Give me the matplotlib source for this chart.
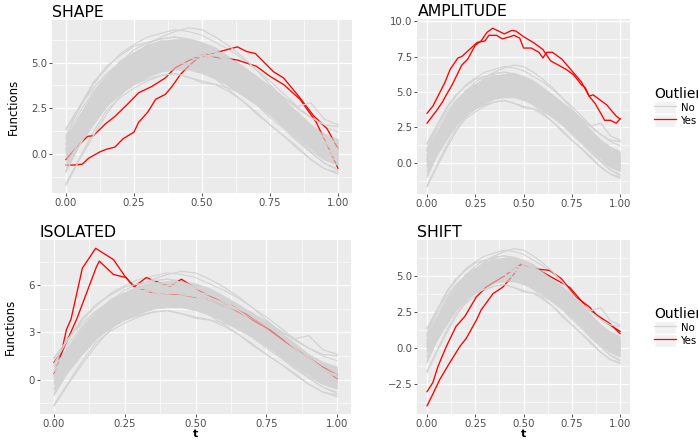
import matplotlib
matplotlib.use("Agg")
import matplotlib.pyplot as plt
from matplotlib.lines import Line2D
from matplotlib.patches import Patch
import numpy as np

plt.rcParams['font.family'] = ['DejaVu Sans']

# time grid for the grey (non outlying) curves
t = np.linspace(0, 1, 21)

grey_curves = [
    [1.3, 2.5, 3.8, 4.7, 5.5, 6.0, 6.4, 6.6, 6.8, 6.7, 6.5, 6.1, 5.7, 5.2, 4.6, 4.0, 3.3, 2.6, 2.0, 1.5, 1.2],
    [-1.6, -0.2, 1.2, 2.4, 3.1, 3.6, 4.0, 4.3, 4.4, 4.2, 4.0, 3.8, 3.4, 2.9, 2.3, 1.6, 1.0, 0.3, -0.3, -0.8, -1.1],
    [0.9, 2.3, 3.4, 4.3, 5.0, 5.7, 6.1, 6.3, 6.4, 6.3, 6.1, 5.8, 5.3, 4.8, 4.2, 3.6, 3.0, 2.3, 1.6, 1.1, 0.8],
    [-0.9, 0.6, 1.7, 2.8, 3.5, 4.1, 4.5, 4.7, 4.8, 4.7, 4.5, 4.2, 3.7, 3.2, 2.7, 2.0, 1.4, 0.7, 0.1, -0.5, -0.8],
    [0.5, 1.7, 3.0, 3.9, 4.7, 5.3, 5.7, 5.9, 6.0, 5.9, 5.7, 5.4, 4.9, 4.5, 3.8, 3.2, 2.6, 1.9, 1.2, 0.7, 0.4],
    [-0.3, 1.0, 2.1, 3.1, 3.9, 4.5, 4.8, 5.1, 5.2, 5.1, 4.9, 4.6, 4.1, 3.6, 3.1, 2.4, 1.7, 1.1, 0.5, -0.1, -0.4],
    [0.1, 1.3, 2.6, 3.5, 4.3, 4.9, 5.2, 5.5, 5.6, 5.5, 5.3, 5.0, 4.5, 4.0, 3.5, 2.8, 2.1, 1.5, 0.9, 0.3, 0.0],
    [-1.0, 0.5, 1.8, 2.9, 3.8, 4.5, 5.0, 5.4, 5.6, 5.7, 5.6, 5.4, 5.1, 4.7, 4.2, 3.7, 3.1, 2.5, 2.0, 1.6, 1.5],
    [1.4, 2.6, 3.6, 4.4, 5.0, 5.5, 5.8, 5.9, 5.8, 5.6, 5.3, 4.8, 4.2, 3.6, 2.9, 2.2, 1.5, 0.8, 0.1, -0.5, -0.9],
    [0.3, 1.5, 2.7, 3.8, 4.7, 5.4, 6.0, 6.4, 6.7, 6.9, 6.8, 6.4, 5.9, 5.3, 4.6, 3.8, 3.0, 2.2, 1.4, 0.7, 0.2],
    [0.0, 1.1, 2.1, 2.9, 3.4, 3.8, 4.1, 4.3, 4.4, 4.2, 3.9, 3.8, 3.6, 3.3, 2.9, 2.4, 1.8, 1.2, 0.6, 0.0, -0.4],
    [0.8, 2.0, 3.2, 4.2, 5.1, 5.5, 5.9, 6.2, 6.1, 6.2, 5.8, 5.6, 5.1, 4.7, 4.0, 3.4, 2.9, 2.1, 1.5, 0.9, 0.6],
    [-0.6, 0.7, 2.0, 2.9, 3.7, 4.3, 4.6, 4.9, 5.1, 4.9, 4.6, 4.4, 4.0, 3.4, 2.9, 2.2, 1.5, 0.9, 0.2, -0.3, -0.6],
    [0.2, 1.6, 2.8, 3.8, 4.5, 5.1, 5.5, 5.7, 5.8, 5.7, 5.5, 5.2, 4.8, 4.2, 3.7, 3.0, 2.3, 1.7, 1.0, 0.5, 0.2],
    [-0.2, 1.2, 2.4, 3.3, 4.1, 4.7, 5.1, 5.3, 5.4, 5.3, 5.1, 4.8, 4.3, 3.8, 3.3, 2.6, 1.9, 1.3, 0.7, 0.1, -0.2],
    [0.6, 1.6, 2.5, 3.3, 4.0, 4.6, 5.0, 5.3, 5.5, 5.5, 5.4, 5.2, 4.9, 4.5, 4.1, 3.6, 3.1, 2.6, 2.8, 1.9, 1.6],
    [1.0, 2.6, 3.9, 4.8, 5.4, 5.9, 6.1, 6.3, 6.4, 6.2, 5.9, 5.5, 5.0, 4.4, 3.7, 3.0, 2.3, 1.6, 0.8, 0.2, -0.2],
    [-1.7, -0.3, 1.0, 2.2, 3.2, 4.0, 4.6, 5.0, 5.3, 5.4, 5.3, 5.1, 4.7, 4.2, 3.7, 3.1, 2.4, 1.7, 1.0, 0.3, -0.1],
    [0.3, 1.5, 2.6, 3.6, 4.3, 4.8, 5.1, 5.2, 5.1, 4.9, 4.6, 4.1, 3.5, 2.9, 2.2, 1.6, 1.0, 0.4, -0.3, -0.8, -1.0],
    [0.5, 1.9, 3.1, 4.0, 4.8, 5.2, 5.6, 5.8, 6.0, 6.0, 5.9, 5.6, 5.2, 4.7, 4.1, 3.5, 2.8, 2.0, 1.3, 0.6, 0.3],
]
# dense core of the grey band
band_lo = [-0.8, 0.5, 1.6, 2.6, 3.3, 3.8, 4.2, 4.5, 4.6, 4.6, 4.4, 4.1, 3.7, 3.2, 2.7, 2.1, 1.5, 0.9, 0.3, -0.3, -0.6]
band_hi = [0.9, 2.2, 3.4, 4.3, 5.0, 5.6, 6.0, 6.2, 6.3, 6.3, 6.1, 5.8, 5.3, 4.8, 4.3, 3.7, 3.0, 2.3, 1.6, 1.1, 0.8]

# outliers: (t, values) per panel
shape_t1 = [0.0, 0.04, 0.08, 0.10, 0.145, 0.18, 0.23, 0.267, 0.316, 0.365, 0.40, 0.45, 0.494, 0.54, 0.59, 0.63, 0.665, 0.696, 0.763, 0.80, 0.855, 0.91, 0.96, 1.0]
shape_y1 = [-0.3, 0.4, 0.97, 1.0, 1.65, 2.06, 2.78, 3.35, 3.7, 4.16, 4.7, 5.1, 5.4, 5.5, 5.7, 5.86, 5.6, 5.5, 4.5, 4.16, 3.17, 2.1, 1.38, 0.3]
shape_t2 = [0.0, 0.035, 0.06, 0.083, 0.126, 0.15, 0.18, 0.21, 0.25, 0.267, 0.30, 0.33, 0.365, 0.39, 0.42, 0.45, 0.494, 0.59, 0.63, 0.70, 0.75, 0.80, 0.86, 0.92, 1.0]
shape_y2 = [-0.6, -0.6, -0.55, -0.23, 0.13, 0.27, 0.38, 0.84, 1.2, 1.74, 2.28, 3.0, 3.26, 3.7, 4.34, 4.8, 5.36, 5.23, 5.14, 4.8, 4.25, 3.8, 3.0, 1.74, -0.77]

amp_t1 = [0.0, 0.03, 0.06, 0.09, 0.12, 0.16, 0.18, 0.22, 0.26, 0.30, 0.32, 0.36, 0.39, 0.43, 0.45, 0.48, 0.50, 0.54, 0.58, 0.60, 0.62, 0.65, 0.70, 0.75, 0.80, 0.84, 0.86, 0.90, 0.93, 0.98, 1.0]
amp_y1 = [3.5, 4.0, 4.8, 5.6, 6.6, 7.4, 7.5, 8.0, 8.5, 8.6, 9.0, 9.0, 8.75, 8.9, 9.0, 8.8, 8.1, 8.1, 7.8, 7.4, 7.8, 7.8, 7.3, 6.5, 5.7, 4.7, 4.8, 4.4, 4.1, 3.3, 3.1]
amp_t2 = [0.0, 0.05, 0.08, 0.10, 0.13, 0.18, 0.21, 0.25, 0.28, 0.31, 0.34, 0.37, 0.40, 0.44, 0.46, 0.50, 0.55, 0.60, 0.64, 0.68, 0.72, 0.76, 0.80, 0.82, 0.84, 0.87, 0.90, 0.92, 0.95, 0.98, 1.0]
amp_y2 = [2.8, 3.7, 4.3, 4.8, 5.5, 6.9, 7.3, 8.3, 8.6, 9.2, 9.5, 9.3, 9.1, 9.35, 9.3, 8.9, 8.5, 8.0, 7.2, 6.9, 6.6, 6.2, 5.5, 5.3, 4.7, 4.2, 3.5, 3.0, 3.0, 2.8, 3.1]

iso_t1 = [0.0, 0.026, 0.044, 0.06, 0.10, 0.147, 0.21, 0.25, 0.27, 0.285, 0.326, 0.373, 0.41, 0.45, 0.52, 0.61, 0.63, 0.74, 0.82, 0.90, 1.0]
iso_y1 = [1.1, 1.73, 3.2, 3.85, 7.1, 8.37, 7.65, 6.6, 6.17, 5.95, 6.5, 6.17, 5.95, 6.4, 5.6, 4.8, 4.7, 3.5, 2.37, 1.4, 0.05]
iso_t2 = [0.0, 0.03, 0.08, 0.15, 0.16, 0.21, 0.255, 0.28, 0.35, 0.45, 0.55, 0.65, 0.75, 0.85, 0.95, 1.0]
iso_y2 = [0.36, 1.84, 3.85, 7.2, 7.55, 6.7, 6.5, 5.96, 5.5, 5.4, 5.1, 4.3, 3.3, 2.0, 0.8, 0.3]

shift_t1 = [0.0, 0.03, 0.057, 0.10, 0.15, 0.195, 0.256, 0.307, 0.40, 0.49, 0.56, 0.635, 0.696, 0.77, 0.84, 0.886, 0.96, 1.0]
shift_y1 = [-3.03, -2.4, -1.26, 0.11, 1.5, 2.18, 3.56, 4.24, 5.0, 5.85, 5.5, 5.39, 4.82, 3.56, 2.87, 2.18, 1.5, 1.15]
shift_t2 = [0.0, 0.03, 0.066, 0.117, 0.17, 0.204, 0.256, 0.28, 0.342, 0.394, 0.445, 0.49, 0.566, 0.635, 0.74, 0.84, 0.947, 1.0]
shift_y2 = [-4.01, -3.2, -2.18, -1.03, 0.11, 0.69, 1.95, 2.64, 3.78, 4.24, 5.05, 5.85, 5.5, 5.0, 4.2, 2.64, 1.7, 1.0]

titles = ["SHAPE", "AMPLITUDE", "ISOLATED", "SHIFT"]

GREY = "#D3D3D3"
RED = "#FF0000"
W, H = 698, 441


def panel_axes(fig, x0, x1, y0, y1):
    # pixel box (top-left origin) -> figure axes
    return fig.add_axes([x0 / W, 1 - y1 / H, (x1 - x0) / W, (y1 - y0) / H])


def style(ax, yticks, yticklabels, ylim, title):
    ax.set_facecolor("#EBEBEB")
    ax.set_xlim(-0.05, 1.05)
    ax.set_ylim(*ylim)
    ax.set_xticks([0, 0.25, 0.5, 0.75, 1.0])
    ax.set_xticklabels(["0.00", "0.25", "0.50", "0.75", "1.00"])
    ax.set_xticks([0.125, 0.375, 0.625, 0.875], minor=True)
    ax.set_yticks(yticks)
    ax.set_yticklabels(yticklabels)
    step = yticks[1] - yticks[0]
    minors = [v + step / 2 for v in [yticks[0] - step] + list(yticks)]
    ax.set_yticks([m for m in minors if ylim[0] < m < ylim[1]], minor=True)
    ax.grid(True, which="major", color="white", linewidth=0.9)
    ax.grid(True, which="minor", color="white", linewidth=0.45)
    ax.set_axisbelow(True)
    for s in ax.spines.values():
        s.set_visible(False)
    ax.tick_params(which="major", length=2.2, width=0.6, color="#333333",
                   labelsize=7.3, labelcolor="#4D4D4D", pad=1.5)
    ax.tick_params(which="minor", length=0)
    ax.set_title(title, loc="left", fontsize=11.3, pad=2)


def draw(ax, reds):
    ax.fill_between(t, band_lo, band_hi, color=GREY, linewidth=0, zorder=2)
    split = 6
    for c in grey_curves[:split]:
        ax.plot(t, c, color=GREY, linewidth=0.8, zorder=2)
    for rt, ry in reds:
        ax.plot(rt, ry, color=RED, linewidth=0.95, zorder=3)
    ax.fill_between(t, band_lo, band_hi, color=GREY, alpha=0.6, linewidth=0, zorder=4)
    for c in grey_curves[split:]:
        ax.plot(t, c, color=GREY, linewidth=0.9, zorder=4)


fig = plt.figure(figsize=(W / 100, H / 100), dpi=100)

ylab = dict(fontsize=8.5, labelpad=8, family=['Liberation Sans Narrow', 'DejaVu Sans'])
xlab = dict(fontsize=8, labelpad=0, fontweight="bold")

ax1 = panel_axes(fig, 52.4, 351.6, 20, 193)
draw(ax1, [(shape_t1, shape_y1), (shape_t2, shape_y2)])
style(ax1, [0, 2.5, 5.0], ["0.0", "2.5", "5.0"], (-2.13, 7.33), titles[0])
ax1.set_ylabel("Functions", **ylab)

ax2 = panel_axes(fig, 417.4, 629.7, 19, 194)
draw(ax2, [(amp_t1, amp_y1), (amp_t2, amp_y2)])
style(ax2, [0, 2.5, 5.0, 7.5, 10.0], ["0.0", "2.5", "5.0", "7.5", "10.0"], (-2.2, 10.15), titles[1])

ax3 = panel_axes(fig, 39.9, 351.2, 240, 414)
draw(ax3, [(iso_t1, iso_y1), (iso_t2, iso_y2)])
style(ax3, [0, 3, 6], ["0", "3", "6"], (-2.2, 8.9), titles[2])
ax3.set_ylabel("Functions", **ylab)
ax3.set_xlabel("t", **xlab)

ax4 = panel_axes(fig, 417.4, 629.7, 240, 414)
draw(ax4, [(shift_t1, shift_y1), (shift_t2, shift_y2)])
style(ax4, [-2.5, 0, 2.5, 5.0], ["\u22122.5", "0.0", "2.5", "5.0"], (-4.58, 7.5), titles[3])
ax4.set_xlabel("t", **xlab)

key_bg = "#F2F2F2"
handles = [(Patch(facecolor=key_bg, edgecolor="white"), Line2D([], [], color=GREY, linewidth=0.9)),
           (Patch(facecolor=key_bg, edgecolor="white"), Line2D([], [], color=RED, linewidth=0.9))]
for ax, ytop in [(ax2, 87), (ax4, 307)]:
    leg = ax.legend(handles, ["No", "Yes"], title="Outlier", loc="upper left",
                    bbox_to_anchor=(654 / W, 1 - ytop / H), bbox_transform=fig.transFigure,
                    frameon=False, fontsize=7.3, title_fontsize=10, handlelength=2.2,
                    handleheight=1.6, handletextpad=0.45, labelspacing=0.0,
                    borderpad=0, borderaxespad=0)
    leg._legend_box.align = "left"

fig.savefig("out.png", dpi=100)
